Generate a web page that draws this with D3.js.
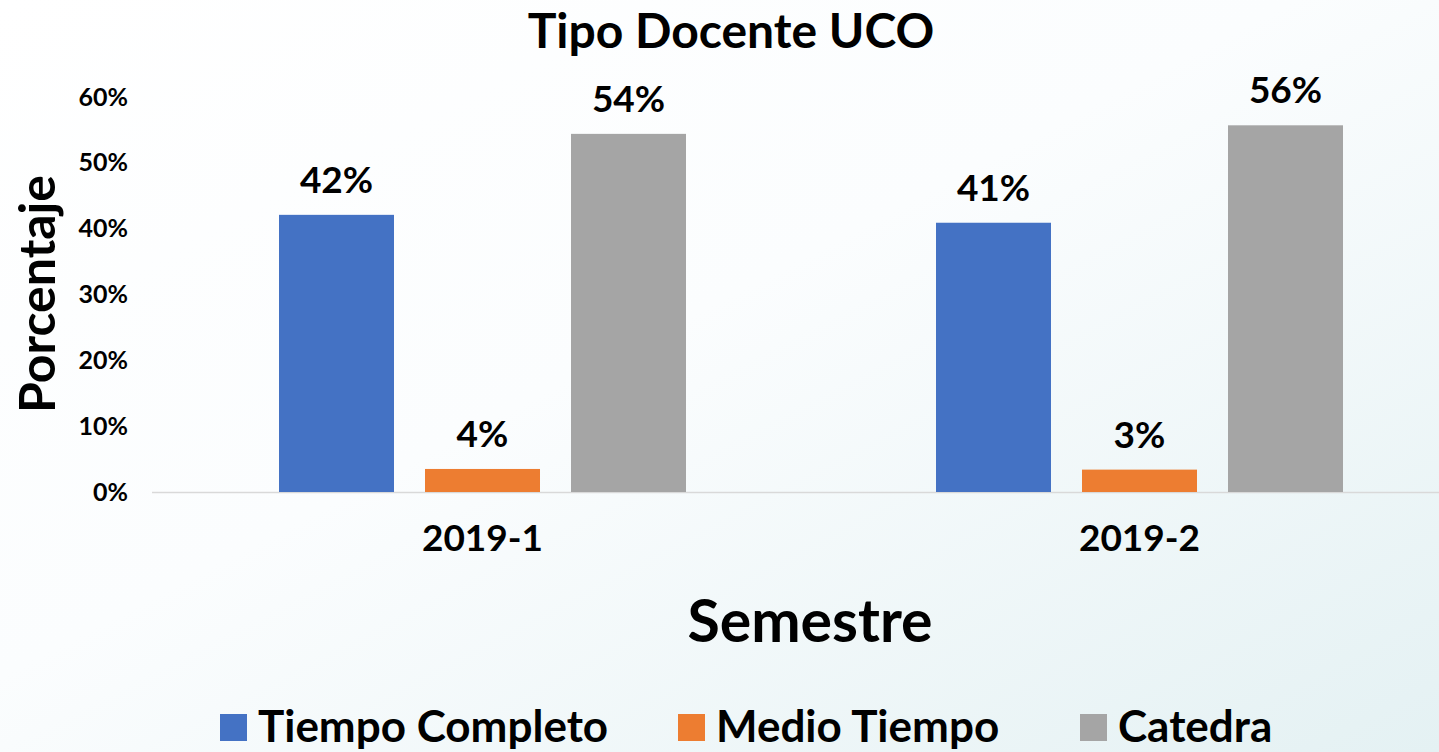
<!DOCTYPE html>
<html>
<head>
<meta charset="utf-8">
<script src="https://cdn.jsdelivr.net/npm/d3@7/dist/d3.min.js"></script>
<style>
  html, body { margin: 0; padding: 0; overflow: hidden; }
  svg { display: block; font-family: Lato, "Open Sans", sans-serif; font-weight: bold; }
</style>
</head>
<body>
<svg id="chart" width="1439" height="752"></svg>
<script>
const categories = ["2019-1", "2019-2"];
const seriesNames = ["Tiempo Completo", "Medio Tiempo", "Catedra"];
const tiempoCompleto = [42.1, 40.9];
const medioTiempo = [3.5, 3.4];
const catedra = [54.4, 55.7];
const yTicks = [0, 10, 20, 30, 40, 50, 60];
const colors = ["#4472C4", "#ED7D31", "#A5A5A5"];

const seriesValues = [tiempoCompleto, medioTiempo, catedra];
const W = 1439, H = 752;
const svg = d3.select("#chart");

const defs = svg.append("defs");
const grad = defs.append("linearGradient").attr("id", "bg")
  .attr("x1", "0%").attr("y1", "0%").attr("x2", "100%").attr("y2", "100%");
grad.append("stop").attr("offset", "0%").attr("stop-color", "#ffffff");
grad.append("stop").attr("offset", "45%").attr("stop-color", "#fbfdfe");
grad.append("stop").attr("offset", "100%").attr("stop-color", "#e4f1f3");
svg.append("rect").attr("width", W).attr("height", H).attr("fill", "url(#bg)");

const x0 = d3.scaleBand().domain(categories).range([154, 1468]).paddingInner(0).paddingOuter(0);
const y = d3.scaleLinear().domain([0, 60]).range([492, 97]);

const barW = 115, gap = 31;
const x1 = d3.scaleBand().domain(seriesNames)
  .range([-(3 * barW + 2 * gap) / 2, (3 * barW + 2 * gap) / 2]).paddingInner(gap / (barW + gap)).paddingOuter(0);

// baseline
svg.append("line").attr("x1", 152).attr("x2", 1439).attr("y1", y(0) + 0.5).attr("y2", y(0) + 0.5)
  .attr("stroke", "#d9d9d9").attr("stroke-width", 1.5);

// y axis
const yAxis = d3.axisLeft(y).tickValues(yTicks).tickFormat(d => d + "%").tickSize(0).tickPadding(0);
const yG = svg.append("g").attr("transform", "translate(128,0)").call(yAxis);
yG.select(".domain").remove();
yG.selectAll("text").attr("font-size", 25).attr("font-family", "Lato, sans-serif")
  .attr("font-weight", "bold").attr("fill", "#000");

// x axis labels
const xAxis = d3.axisBottom(x0).tickSize(0).tickPadding(0);
const xG = svg.append("g").attr("transform", "translate(0,525)").call(xAxis);
xG.select(".domain").remove();
xG.selectAll("text").attr("font-size", 37).attr("font-family", "Lato, sans-serif")
  .attr("font-weight", "bold").attr("fill", "#000");

// bars
const groups = svg.selectAll("g.grp").data(categories).enter().append("g")
  .attr("class", "grp")
  .attr("transform", d => `translate(${x0(d) + x0.bandwidth() / 2},0)`);

groups.each(function(cat, ci) {
  const g = d3.select(this);
  const data = seriesNames.map((s, si) => ({ s, v: seriesValues[si][ci], c: colors[si] }));
  g.selectAll("rect").data(data).enter().append("rect")
    .attr("x", d => x1(d.s)).attr("width", x1.bandwidth())
    .attr("y", d => y(d.v)).attr("height", d => y(0) - y(d.v))
    .attr("fill", d => d.c);
  g.selectAll("text.lbl").data(data).enter().append("text")
    .attr("class", "lbl")
    .attr("x", d => x1(d.s) + x1.bandwidth() / 2)
    .attr("y", d => y(d.v) - 22)
    .attr("text-anchor", "middle").attr("font-size", 37).attr("fill", "#000")
    .text(d => Math.round(d.v) + "%");
});

// title
svg.append("text").attr("x", 731).attr("y", 48).attr("text-anchor", "middle")
  .attr("font-size", 48).attr("fill", "#000").text("Tipo Docente UCO");

// axis titles
svg.append("text").attr("transform", "translate(55,294) rotate(-90)").attr("text-anchor", "middle")
  .attr("font-size", 50).attr("fill", "#000").text("Porcentaje");
svg.append("text").attr("x", 810).attr("y", 642).attr("text-anchor", "middle")
  .attr("font-size", 59).attr("fill", "#000").text("Semestre");

// legend
const legendX = [220, 678, 1080];
const lg = svg.selectAll("g.leg").data(seriesNames).enter().append("g")
  .attr("class", "leg").attr("transform", (d, i) => `translate(${legendX[i]},714)`);
lg.append("rect").attr("width", 27).attr("height", 27).attr("fill", (d, i) => colors[i]);
lg.append("text").attr("x", 38).attr("y", 28).attr("font-size", 44).attr("fill", "#000").text(d => d);
</script>
</body>
</html>
